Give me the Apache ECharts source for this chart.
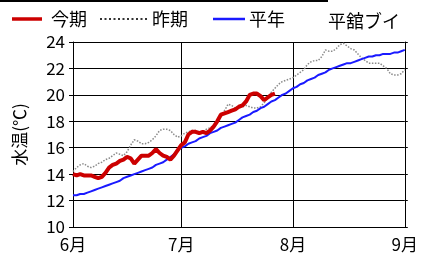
<!DOCTYPE html>
<html>
<head>
<meta charset="utf-8">
<script src="https://cdn.jsdelivr.net/npm/echarts@6/dist/echarts.min.js"></script>
<style>
html, body { margin: 0; padding: 0; background: #fff; }
#chart { width: 421px; height: 259px; }
</style>
</head>
<body>
<div id="chart"></div>
<script>
// 6/1 .. 9/1 の日ごとのデータ (index 0 = 6/1)
var monthIndex = [0, 30, 61, 92];
var monthLabels = ['6月', '7月', '8月', '9月'];

var konki = [14.0, 13.9, 14.0, 13.9, 13.9, 13.9, 13.8, 13.7, 13.8, 14.1,
             14.5, 14.7, 14.8, 15.0, 15.1, 15.3, 15.2, 14.8, 15.1, 15.4,
             15.4, 15.4, 15.6, 15.9, 15.6, 15.4, 15.3, 15.1, 15.4, 15.8,
             16.2, 16.4, 17.0, 17.2, 17.2, 17.1, 17.2, 17.1, 17.3, 17.6,
             18.0, 18.5, 18.6, 18.7, 18.8, 18.9, 19.1, 19.2, 19.5, 20.0,
             20.1, 20.1, 19.9, 19.6, 19.8, 20.0, 20.1];

var sakki = [14.2, 14.5, 14.7, 14.8, 14.6, 14.5, 14.6, 14.8, 14.9, 15.1,
             15.2, 15.4, 15.6, 15.5, 15.4, 15.7, 16.2, 16.6, 16.5, 16.3,
             16.3, 16.4, 16.6, 16.9, 17.3, 17.4, 17.4, 17.3, 17.0, 16.8,
             16.9, 17.1, 17.2, 17.3, 17.3, 17.2, 17.2, 17.4, 17.5, 17.7,
             18.0, 18.3, 18.8, 19.3, 19.2, 19.0, 19.1, 19.1, 19.2, 19.1,
             19.0, 19.0, 19.1, 19.4, 19.8, 20.2, 20.5, 20.8, 21.0, 21.1,
             21.2, 21.3, 21.5, 21.7, 21.9, 22.3, 22.5, 22.6, 22.6, 22.9,
             23.4, 23.3, 23.3, 23.5, 23.8, 23.9, 23.7, 23.5, 23.4, 23.1,
             22.8, 22.6, 22.4, 22.4, 22.4, 22.4, 22.2, 22.0, 21.6, 21.5,
             21.5, 21.6, 21.9];

var heinen = [12.4, 12.4, 12.5, 12.5, 12.6, 12.7, 12.8, 12.9, 13.0, 13.1,
              13.2, 13.3, 13.4, 13.5, 13.7, 13.8, 13.9, 14.0, 14.1, 14.2,
              14.3, 14.4, 14.5, 14.7, 14.8, 14.9, 15.1, 15.3, 15.5, 15.8,
              16.0, 16.1, 16.3, 16.4, 16.5, 16.7, 16.8, 16.9, 17.1, 17.2,
              17.3, 17.5, 17.6, 17.7, 17.8, 17.9, 18.1, 18.3, 18.4, 18.5,
              18.7, 18.8, 19.0, 19.1, 19.3, 19.5, 19.6, 19.8, 20.0, 20.1,
              20.3, 20.5, 20.6, 20.8, 20.9, 21.1, 21.2, 21.3, 21.5, 21.6,
              21.7, 21.9, 22.0, 22.1, 22.2, 22.3, 22.4, 22.4, 22.5, 22.6,
              22.7, 22.8, 22.9, 22.9, 23.0, 23.0, 23.1, 23.1, 23.1, 23.2,
              23.2, 23.3, 23.4];

var days = [];
for (var i = 0; i < heinen.length; i++) days.push(i);

function isMonth(idx) { return monthIndex.indexOf(idx) >= 0; }

var font = '"Noto Sans CJK JP", sans-serif';
var red = '#cc0000', blue = '#1a1aff', gray = '#8a8a8a';

// 凡例は線だけなので graphic で描く
function legendItem(x1, x2, tx, label, stroke, width, dash) {
    return [{
        type: 'line', shape: { x1: x1, y1: 19, x2: x2, y2: 19 },
        style: { stroke: stroke, lineWidth: width, lineDash: dash }
    }, {
        type: 'text', x: tx, y: 19,
        style: { text: label, fill: '#000', font: '18px ' + font, textVerticalAlign: 'middle' }
    }];
}

var myChart = echarts.init(document.getElementById('chart'));
var option = {
    animation: false,
    textStyle: { fontFamily: font },
    title: {
        text: '平舘ブイ', left: 323, top: 7,
        textStyle: { fontSize: 18, fontWeight: 'normal', color: '#000', fontFamily: font }
    },
    graphic: [{
        type: 'line', shape: { x1: 0, y1: 1, x2: 328, y2: 1 },
        style: { stroke: '#000', lineWidth: 2 }
    }].concat(
        legendItem(12, 42, 51, '今期', red, 3.5, null),
        legendItem(100, 148, 152, '昨期', '#333', 2, [2, 2.5]),
        legendItem(213, 245, 249, '平年', blue, 2.5, null)
    ),
    grid: { left: 73, right: 14, top: 42, bottom: 32 },
    xAxis: {
        type: 'category', data: days, boundaryGap: false,
        axisLine: { lineStyle: { color: '#000', width: 1 } },
        axisTick: { show: false },
        axisLabel: {
            interval: function (idx) { return isMonth(idx); },
            formatter: function (v, idx) { return monthLabels[monthIndex.indexOf(idx)]; },
            fontSize: 17, color: '#000', margin: 9, fontFamily: font
        },
        splitLine: { show: true, interval: function (idx) { return isMonth(idx); },
                     lineStyle: { color: '#000', width: 1 } }
    },
    yAxis: [{
        type: 'value', min: 10, max: 24, interval: 2,
        name: '水温(℃)', nameLocation: 'middle', nameGap: 45,
        nameTextStyle: { fontSize: 17, color: '#000', fontFamily: font },
        axisLine: { show: true, lineStyle: { color: '#000' } },
        axisTick: { show: true, length: 4, lineStyle: { color: '#000' } },
        axisLabel: { fontSize: 17, color: '#000', margin: 8, fontFamily: font },
        splitLine: { lineStyle: { color: '#000', width: 1 } }
    }, {
        type: 'value', min: 10, max: 24, interval: 2, position: 'right',
        axisLine: { show: true, lineStyle: { color: '#000' } },
        axisTick: { show: true, length: 3, lineStyle: { color: '#000' } },
        axisLabel: { show: false },
        splitLine: { show: false }
    }],
    series: [{
        name: '平年', type: 'line', data: heinen, showSymbol: false, symbol: 'none',
        lineStyle: { color: blue, width: 2 }, itemStyle: { color: blue }, z: 3
    }, {
        name: '昨期', type: 'line', data: sakki, showSymbol: false, symbol: 'none',
        lineStyle: { color: gray, width: 1.5, type: 'dotted' }, itemStyle: { color: gray }, z: 2
    }, {
        name: '今期', type: 'line', data: konki, showSymbol: false, symbol: 'none',
        lineStyle: { color: red, width: 4 }, itemStyle: { color: red }, z: 4
    }]
};
myChart.setOption(option);
</script>
</body>
</html>
